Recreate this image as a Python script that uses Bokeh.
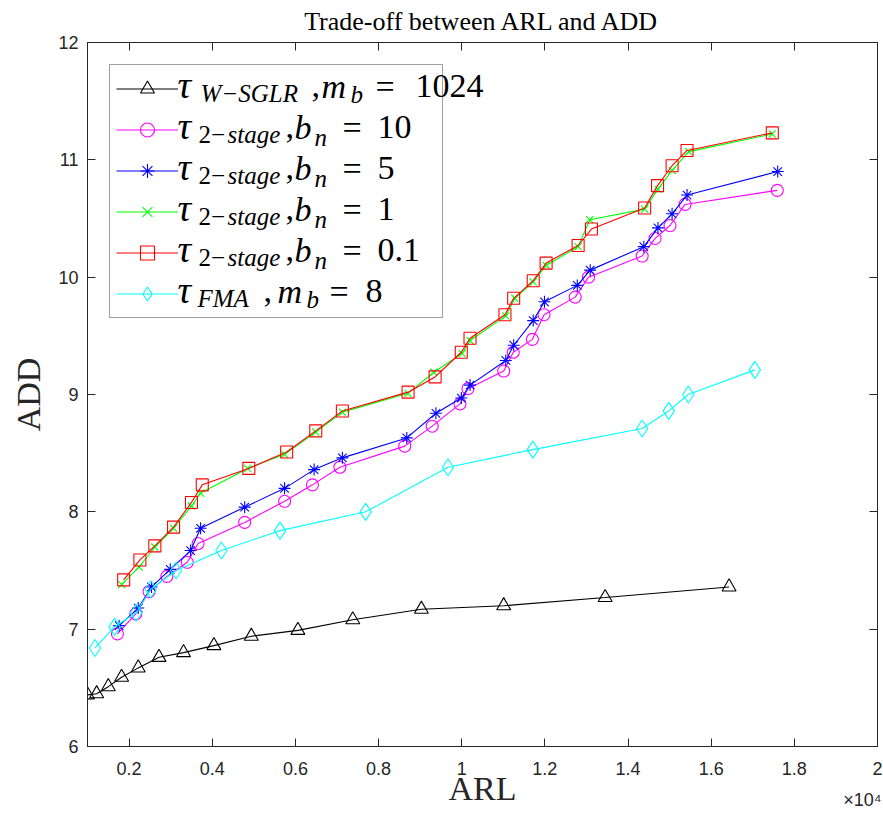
from bokeh.plotting import figure
from bokeh.models import (FixedTicker, LinearAxis, Range1d, Legend, LegendItem,
                          Label, Title, CustomJSTickFormatter)
from bokeh.core.properties import value
from bokeh.embed import file_html
from bokeh.resources import INLINE

# ---------------- data ----------------
arl_wsglr = [1000, 1220, 1500, 1820, 2220, 2720, 3310, 4040, 4940, 6060, 7380, 9030, 11010, 13450, 16430]
add_wsglr = [6.44, 6.45, 6.51, 6.59, 6.67, 6.76, 6.80, 6.86, 6.94, 6.99, 7.08, 7.17, 7.20, 7.27, 7.36]

arl_b10 = [1720, 2160, 2480, 2910, 3400, 3660, 4780, 5740, 6410, 7070, 8630, 9290, 9960, 10150, 11010,
           11240, 11700, 11980, 12730, 13050, 14340, 14650, 15010, 15370, 17590]
add_b10 = [6.96, 7.13, 7.32, 7.45, 7.57, 7.73, 7.91, 8.09, 8.23, 8.38, 8.56, 8.73, 8.92, 9.05, 9.20,
           9.36, 9.47, 9.68, 9.83, 10.00, 10.18, 10.33, 10.44, 10.62, 10.74]

arl_b5 = [1760, 2220, 2540, 2990, 3480, 3720, 4780, 5740, 6450, 7130, 8680, 9380, 9990, 10200, 11060,
          11250, 11720, 11990, 12780, 13090, 14380, 14720, 15060, 15420, 17600]
add_b5 = [7.03, 7.18, 7.36, 7.51, 7.67, 7.86, 8.04, 8.20, 8.36, 8.46, 8.63, 8.84, 8.97, 9.08, 9.29,
          9.42, 9.63, 9.79, 9.93, 10.06, 10.26, 10.42, 10.54, 10.70, 10.90]

arl_b1 = [1820, 2240, 2620, 3070, 3500, 3720, 4850, 5740, 6490, 7130, 8710, 9330, 10010, 10200, 11060,
          11280, 11720, 12030, 12800, 13080, 14400, 14720, 15060, 15460, 17470]
add_b1 = [7.38, 7.53, 7.70, 7.86, 8.05, 8.16, 8.37, 8.49, 8.68, 8.85, 9.01, 9.19, 9.35, 9.46, 9.67,
          9.82, 9.96, 10.10, 10.26, 10.49, 10.58, 10.75, 10.91, 11.07, 11.22]

arl_b01 = [1870, 2260, 2620, 3070, 3500, 3760, 4880, 5790, 6490, 7130, 8710, 9360, 9990, 10200, 11040,
           11250, 11720, 12030, 12800, 13120, 14400, 14710, 15060, 15420, 17470]
add_b01 = [7.42, 7.59, 7.71, 7.87, 8.08, 8.23, 8.37, 8.51, 8.69, 8.86, 9.02, 9.15, 9.36, 9.48, 9.68,
           9.82, 9.97, 10.12, 10.27, 10.41, 10.59, 10.78, 10.95, 11.08, 11.23]

arl_fma = [1180, 1650, 2170, 2520, 3130, 4220, 5630, 7690, 9670, 11710, 14340, 14980, 15450, 17050]
add_fma = [6.84, 7.02, 7.14, 7.34, 7.50, 7.67, 7.84, 8.00, 8.38, 8.53, 8.71, 8.86, 9.00, 9.21]

x_ticks = [2000, 4000, 6000, 8000, 10000, 12000, 14000, 16000, 18000, 20000]
x_tick_labels = ["0.2", "0.4", "0.6", "0.8", "1", "1.2", "1.4", "1.6", "1.8", "2"]
y_ticks = [6, 7, 8, 9, 10, 11, 12]
y_tick_labels = ["6", "7", "8", "9", "10", "11", "12"]

title_text = "Trade-off between ARL and ADD"
x_label = "ARL"
y_label = "ADD"
x_multiplier = "×10⁴"

# legend texts: (text, x on page, kind)
legend_rows = [
    [("τ", 177, "T"), ("W−SGLR", 200, "S"), (",", 311, "M"), ("m", 321, "MI"), ("b", 350, "SB1"),
     ("=", 375, "M"), ("1024", 415, "M")],
    [("τ", 177, "T"), ("2−", 198, "SU"), ("stage", 227, "S"), (",", 285, "M"), ("b", 294, "MI"),
     ("n", 314, "SB2"), ("=", 342, "M"), ("10", 377, "M")],
    [("τ", 177, "T"), ("2−", 198, "SU"), ("stage", 227, "S"), (",", 285, "M"), ("b", 294, "MI"),
     ("n", 314, "SB2"), ("=", 342, "M"), ("5", 377, "M")],
    [("τ", 177, "T"), ("2−", 198, "SU"), ("stage", 227, "S"), (",", 285, "M"), ("b", 294, "MI"),
     ("n", 314, "SB2"), ("=", 342, "M"), ("1", 377, "M")],
    [("τ", 177, "T"), ("2−", 198, "SU"), ("stage", 227, "S"), (",", 285, "M"), ("b", 294, "MI"),
     ("n", 314, "SB2"), ("=", 342, "M"), ("0.1", 377, "M")],
    [("τ", 177, "T"), ("FMA", 197, "S"), (",", 263, "M"), ("m", 277, "MI"), ("b", 306, "SB1"),
     ("=", 329, "M"), ("8", 365, "M")],
]

# ---------------- figure ----------------
W, H = 883, 816
ML, MR, MT, MB = 87, 6, 42, 70
FRAME_LEFT = ML
FRAME_BOTTOM = H - MB
FRAME_TOP = MT
AX = "#262626"
SERIF = "Liberation Serif"
SANS = "Liberation Sans"

p = figure(width=W, height=H, x_range=Range1d(1000, 20000), y_range=Range1d(6, 12),
           output_backend="svg", toolbar_location=None,
           min_border_left=ML, min_border_right=MR, min_border_top=MT, min_border_bottom=MB)
p.grid.visible = False
p.outline_line_color = AX
p.outline_line_width = 1
p.background_fill_color = "white"
p.border_fill_color = "white"

p.title = Title(text=title_text, text_font=SERIF, text_font_size="26px",
                text_font_style="normal", text_color="black", align="center",
                vertical_align="top", standoff=9)

p.xaxis.ticker = FixedTicker(ticks=x_ticks)
p.xaxis.major_label_overrides = dict(zip(x_ticks, x_tick_labels))
p.yaxis.ticker = FixedTicker(ticks=y_ticks)
p.yaxis.major_label_overrides = dict(zip(y_ticks, y_tick_labels))
p.yaxis.axis_label = y_label

for ax in (p.xaxis[0], p.yaxis[0]):
    ax.major_tick_in = 8
    ax.major_tick_out = 0
    ax.minor_tick_line_color = None
    ax.axis_line_color = AX
    ax.major_tick_line_color = AX
    ax.major_label_text_font = SANS
    ax.major_label_text_font_size = "18px"
    ax.major_label_text_color = AX
    ax.axis_label_text_font = SERIF
    ax.axis_label_text_font_size = "34px"
    ax.axis_label_text_font_style = "normal"
    ax.axis_label_text_color = AX
p.xaxis.major_label_standoff = 15
p.yaxis.major_label_standoff = 9
p.yaxis.axis_label_standoff = 8

for ticks, place in ((x_ticks, "above"), (y_ticks, "right")):
    extra = LinearAxis(ticker=FixedTicker(ticks=ticks),
                       formatter=CustomJSTickFormatter(code="return ''"),
                       major_tick_in=8, major_tick_out=0, minor_tick_line_color=None,
                       major_label_standoff=0, major_label_text_font_size="0px",
                       axis_line_color=AX, major_tick_line_color=AX)
    p.add_layout(extra, place)

# x-axis name and the x10^4 multiplier, stacked under the tick labels
p.add_layout(Title(text=x_label, text_font=SERIF, text_font_size="34px",
                   text_font_style="normal", text_color=AX, align="center",
                   vertical_align="middle", standoff=-18), "below")
p.add_layout(Title(text=x_multiplier, text_font=SANS, text_font_size="18px",
                   text_font_style="normal", text_color=AX, align="right",
                   vertical_align="bottom", standoff=-23, offset=-4), "below")

series = [
    (arl_wsglr, add_wsglr, "black", "triangle", 14),
    (arl_b10, add_b10, "#FF00FF", "circle", 12),
    (arl_b5, add_b5, "#0000FF", "asterisk", 12),
    (arl_b1, add_b1, "#00FF00", "x", 10),
    (arl_b01, add_b01, "#FF0000", "square", 12),
    (arl_fma, add_fma, "#00FFFF", "diamond", 17),
]

items = []
for xs, ys, col, mk, sz in series:
    lr = p.line(xs, ys, line_color=col, line_width=1.1)
    sr = p.scatter(xs, ys, marker=mk, size=sz, line_color=col, fill_color=None, line_width=1.1)
    items.append(LegendItem(label=value(" "), renderers=[lr, sr]))

LG_MARGIN, LG_PAD, LG_H, LG_SP = 22, 6, 35, 6
legend = Legend(items=items, location="top_left", margin=LG_MARGIN, padding=LG_PAD,
                spacing=LG_SP, glyph_width=62, glyph_height=LG_H, label_height=LG_H,
                label_width=258, label_standoff=0, label_text_font_size="10px",
                border_line_color="#404040", border_line_width=1,
                background_fill_alpha=0.0)
p.add_layout(legend)

# kind: (font size px, style, baseline offset below row centre)
kinds = {
    "T": (38, "italic", 10),
    "M": (34, "normal", 10),
    "MI": (34, "italic", 10),
    "S": (25, "italic", 14),
    "SU": (25, "normal", 14),
    "SB1": (25, "italic", 15),
    "SB2": (25, "italic", 17),
}
for k, row in enumerate(legend_rows):
    cy = FRAME_TOP + LG_MARGIN + LG_PAD + LG_H / 2 + k * (LG_H + LG_SP)
    for txt, xpage, kind in row:
        fs, style, dy = kinds[kind]
        baseline = cy + dy
        p.add_layout(Label(x=xpage - FRAME_LEFT, y=FRAME_BOTTOM - baseline + 0.35 * fs,
                           x_units="screen", y_units="screen", text=txt,
                           text_font=SERIF, text_font_size=f"{fs}px", text_font_style=style,
                           text_color="black", text_align="left", text_baseline="alphabetic"))

open("out.html", "w").write(file_html(p, INLINE))
